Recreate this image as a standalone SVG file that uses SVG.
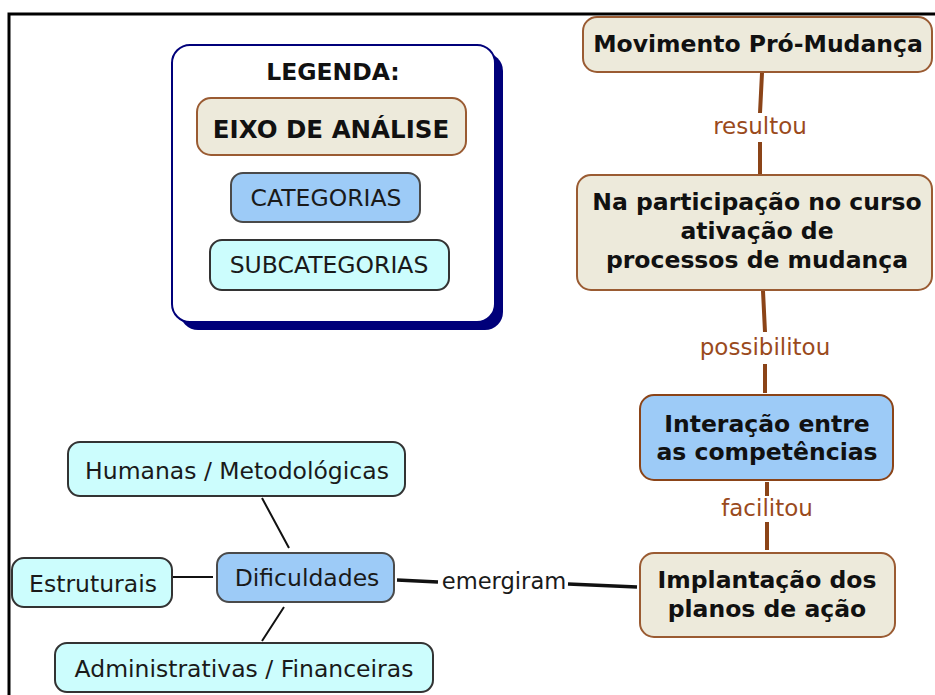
<svg xmlns="http://www.w3.org/2000/svg" width="935" height="695" viewBox="0 0 935 695">
<style>
text{font-family:"DejaVu Sans",Verdana,sans-serif;text-anchor:middle;}
.b{font-weight:bold;fill:#111;font-size:23.5px;}
.r{fill:#1a1a1a;font-size:23.5px;}
.eixo{fill:#edeadb;stroke:#9a5b32;stroke-width:2;}
.cat{fill:#9dcbf7;stroke:#4a4a4a;stroke-width:2;}
.sub{fill:#ccfdfd;stroke:#333;stroke-width:2;}
.lbl{fill:#9a4a1c;font-size:23px;}
.bl{stroke:#8b4418;stroke-width:4;fill:none;}
.kl{stroke:#111;stroke-width:2;fill:none;}
.kt{stroke:#111;stroke-width:3.5;fill:none;}
</style>
<rect width="935" height="695" fill="#fff"/>
<path d="M9 695 V14 H935" fill="none" stroke="#000" stroke-width="3"/>

<g id="legenda">
<rect x="180" y="53" width="323" height="277" rx="18" fill="#00007a"/>
<rect x="172" y="45" width="323" height="277" rx="18" fill="#fff" stroke="#00007a" stroke-width="2"/>
<text x="333" y="80" class="b">LEGENDA:</text>
<g id="leg-eixo"><rect x="197" y="98" width="269" height="57" rx="14" class="eixo"/><text x="331" y="138" class="b" style="font-size:24.5px">EIXO DE ANÁLISE</text></g>
<g id="leg-cat"><rect x="231" y="173" width="189" height="49" rx="12" class="cat"/><text x="326" y="206" class="r">CATEGORIAS</text></g>
<g id="leg-sub"><rect x="210" y="240" width="239" height="50" rx="12" class="sub"/><text x="329" y="273" class="r">SUBCATEGORIAS</text></g>
</g>

<g id="connectors">
<path class="bl" d="M762 73 L760 113 M760 142 V175"/>
<path class="bl" d="M763 291 L765 332 M765 364 V393"/>
<path class="bl" d="M767 482 V496 M767 522 V550"/>
<path class="kt" d="M397 580 L438 582 M568 584 L637 587"/>
<path class="kl" d="M262 498 L289 548 M173 577 H213 M284 607 L262 641"/>
<text x="760" y="134" class="lbl">resultou</text>
<text x="765" y="355" class="lbl">possibilitou</text>
<text x="767" y="516" class="lbl">facilitou</text>
<text x="504" y="589" class="r" style="font-size:22.6px">emergiram</text>
</g>

<g id="n-movimento"><rect x="583" y="17" width="349" height="55" rx="14" class="eixo"/><text x="758" y="52" class="b">Movimento Pró-Mudança</text></g>
<g id="n-participacao"><rect x="577" y="175" width="355" height="115" rx="14" class="eixo"/>
<text class="b"><tspan x="757" y="210">Na participação no curso</tspan><tspan x="757" y="239">ativação de</tspan><tspan x="757" y="268">processos de mudança</tspan></text></g>
<g id="n-interacao"><rect x="640" y="395" width="253" height="85" rx="14" fill="#9dcbf7" stroke="#8b4418" stroke-width="2"/>
<text class="b"><tspan x="767" y="432">Interação entre</tspan><tspan x="767" y="460">as competências</tspan></text></g>
<g id="n-implantacao"><rect x="640" y="553" width="255" height="84" rx="14" class="eixo"/>
<text class="b"><tspan x="767" y="588">Implantação dos</tspan><tspan x="767" y="617">planos de ação</tspan></text></g>
<g id="n-dificuldades"><rect x="217" y="553" width="177" height="49" rx="12" class="cat"/><text x="307" y="586" class="r">Dificuldades</text></g>
<g id="n-humanas"><rect x="68" y="442" width="337" height="54" rx="12" class="sub"/><text x="237" y="479" class="r">Humanas / Metodológicas</text></g>
<g id="n-estruturais"><rect x="12" y="558" width="160" height="49" rx="12" class="sub"/><text x="93" y="592" class="r">Estruturais</text></g>
<g id="n-administrativas"><rect x="55" y="643" width="378" height="49" rx="12" class="sub"/><text x="244" y="677" class="r">Administrativas / Financeiras</text></g>
</svg>
